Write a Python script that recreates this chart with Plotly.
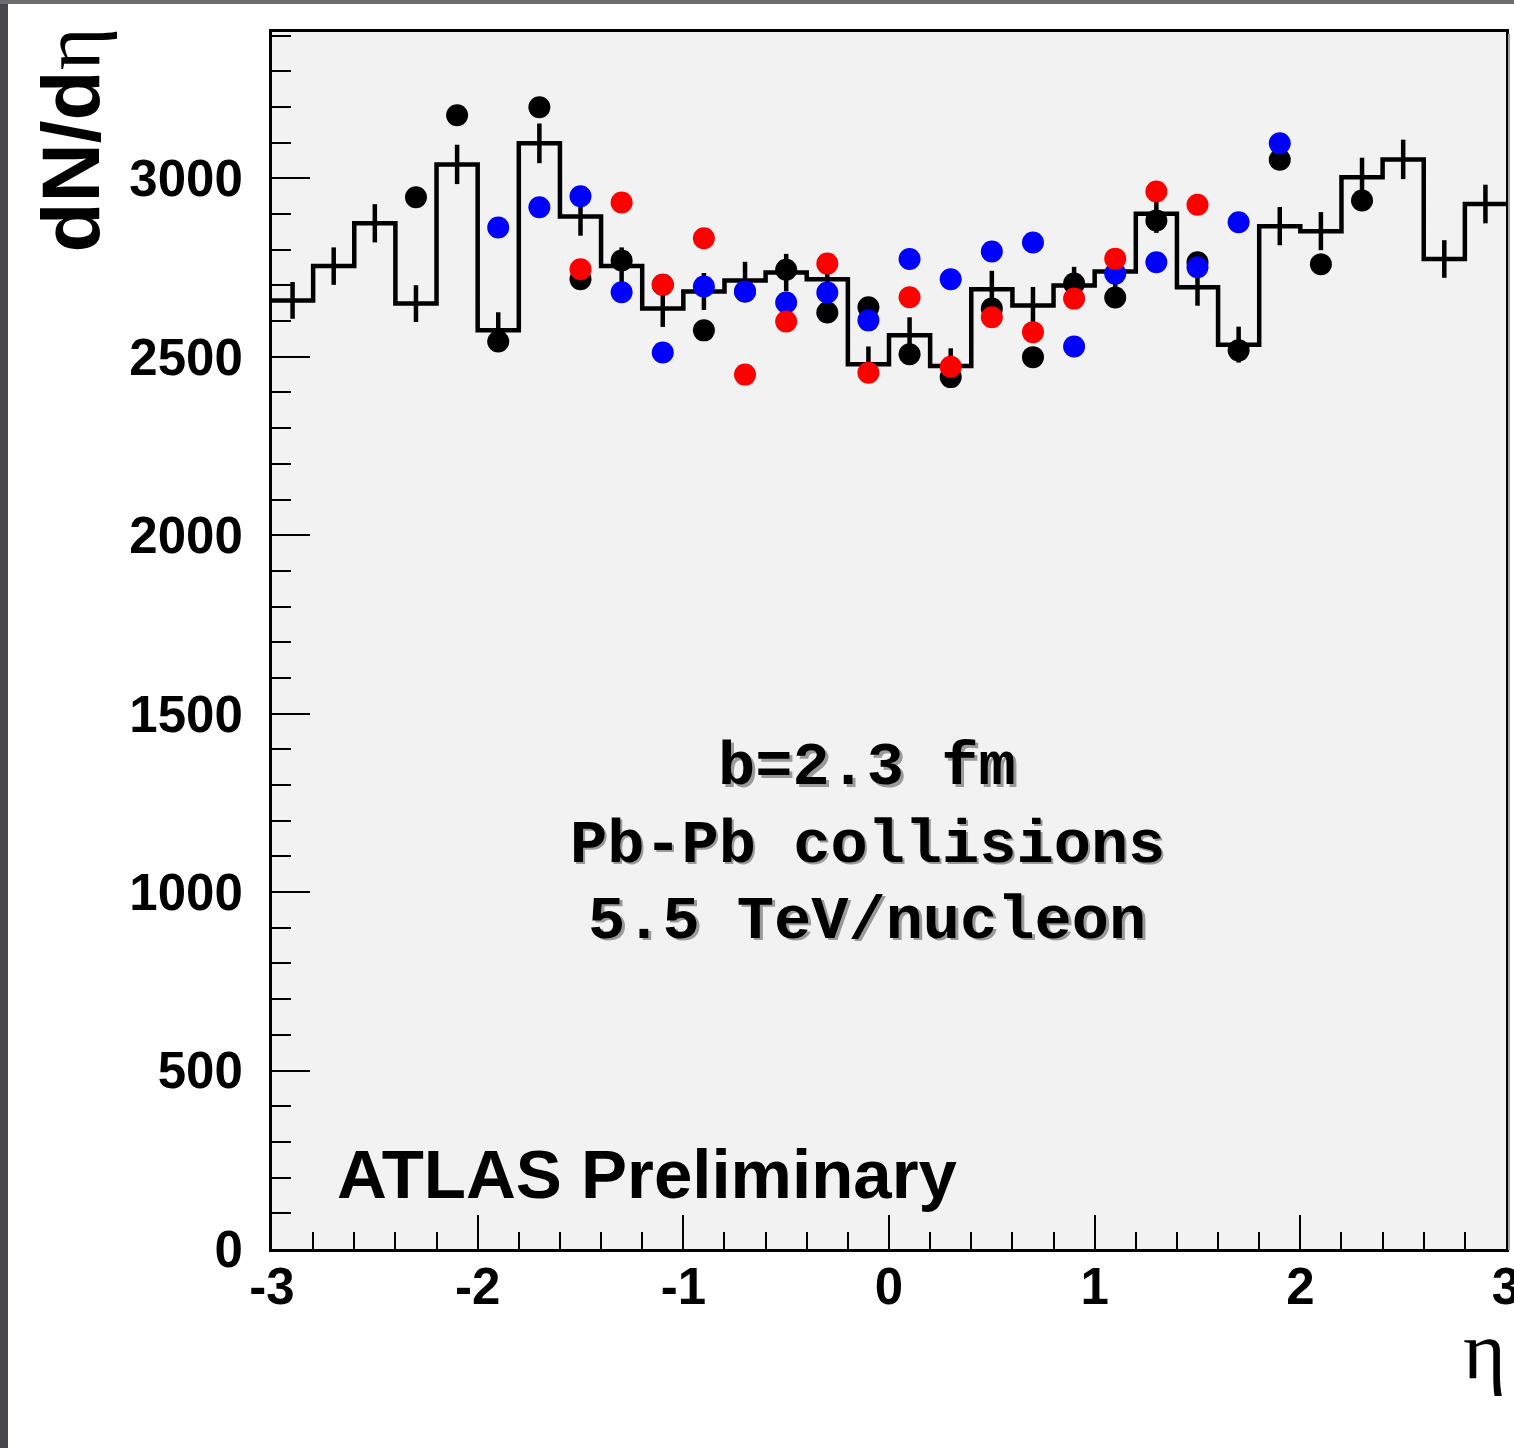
import numpy as np
import plotly.graph_objects as go

# ---------------- data ----------------
bin_edges = [-3.0, -2.8, -2.6, -2.4, -2.2, -2.0, -1.8, -1.6, -1.4, -1.2, -1.0,
             -0.8, -0.6, -0.4, -0.2, 0.0, 0.2, 0.4, 0.6, 0.8, 1.0,
             1.2, 1.4, 1.6, 1.8, 2.0, 2.2, 2.4, 2.6, 2.8, 3.0]
hist_values = [2658, 2754, 2874, 2649, 3039, 2574, 3098, 2893, 2754, 2635,
               2683, 2714, 2736, 2717, 2479, 2560, 2474, 2689, 2644, 2700,
               2739, 2901, 2695, 2534, 2866, 2852, 3003, 3053, 2774, 2928]

black_eta = [-2.3, -2.1, -1.9, -1.7, -1.5, -1.3, -1.1, -0.9, -0.7, -0.5, -0.3, -0.1,
             0.1, 0.3, 0.5, 0.7, 0.9, 1.1, 1.3, 1.5, 1.7, 1.9, 2.1, 2.3]
black_vals = [2947, 3177, 2543, 3199, 2717, 2770, 2702, 2574, 2683, 2744, 2624, 2639,
              2507, 2443, 2635, 2499, 2705, 2666, 2882, 2765, 2518, 3052, 2759, 2938]

blue_eta = [-1.9, -1.7, -1.5, -1.3, -1.1, -0.9, -0.7, -0.5, -0.3, -0.1,
            0.1, 0.3, 0.5, 0.7, 0.9, 1.1, 1.3, 1.5, 1.7, 1.9]
blue_vals = [2862, 2919, 2950, 2681, 2512, 2697, 2683, 2652, 2680, 2602,
             2774, 2717, 2795, 2820, 2529, 2733, 2765, 2751, 2877, 3098]

red_eta = [-1.5, -1.3, -1.1, -0.9, -0.7, -0.5, -0.3, -0.1,
           0.1, 0.3, 0.5, 0.7, 0.9, 1.1, 1.3, 1.5]
red_vals = [2745, 2932, 2702, 2832, 2450, 2599, 2761, 2455,
            2667, 2472, 2611, 2569, 2663, 2775, 2963, 2926]

x_tickvals = [-3, -2, -1, 0, 1, 2, 3]
x_ticktext = ["-3", "-2", "-1", "0", "1", "2", "3"]

info_lines = ["b=2.3 fm", "Pb-Pb collisions", "5.5 TeV/nucleon"]
label_text = "ATLAS Preliminary"

# ---------------- figure ----------------
W, H = 1514, 1448
ML, MR, MT, MB = 272, 8, 32, 199
PW, PH = W - ML - MR, H - MT - MB

def px(x):
    return (x - ML) / PW

def py(y):
    return (H - MB - y) / PH

centers = [(bin_edges[i] + bin_edges[i + 1]) / 2 for i in range(len(hist_values))]
errors = list(np.sqrt(hist_values))

fig = go.Figure()

# histogram step line
fig.add_trace(go.Scatter(
    x=bin_edges, y=hist_values + [hist_values[-1]],
    mode="lines", line=dict(shape="hv", color="black", width=4.5),
    hoverinfo="skip", showlegend=False))

# histogram error bars
fig.add_trace(go.Scatter(
    x=centers, y=hist_values, mode="markers",
    marker=dict(size=1, color="rgba(0,0,0,0)"),
    error_y=dict(type="data", array=errors, visible=True, color="black",
                 thickness=4.5, width=0),
    showlegend=False))

for xs, ys, col in [(black_eta, black_vals, "#000000"),
                    (blue_eta, blue_vals, "#0000ff"),
                    (red_eta, red_vals, "#ff0000")]:
    fig.add_trace(go.Scatter(x=xs, y=ys, mode="markers",
                             marker=dict(size=22, color=col, line=dict(width=0)),
                             showlegend=False))

annotations = []
# info text with shadow
line_y = [768, 845, 921]
for txt, yy in zip(info_lines, line_y):
    for dx, dy, col in [(2.5, 2.5, "#9a9a9a"), (0, 0, "#000000")]:
        annotations.append(dict(
            x=px(867 + dx), y=py(yy + dy), xref="paper", yref="paper",
            text=txt, showarrow=False, xanchor="center", yanchor="middle",
            font=dict(family="Liberation Mono", size=62, color=col, weight="bold")))

annotations.append(dict(
    x=px(335), y=py(1174), xref="paper", yref="paper", text=label_text,
    showarrow=False, xanchor="left", yanchor="middle",
    font=dict(family="Liberation Sans", size=69, color="black", weight="bold")))

# y title
annotations.append(dict(
    x=px(70), y=py(26), xref="paper", yref="paper",
    text="<b>dN/d</b><span style='font-family:Liberation Serif;font-weight:normal'>η</span>",
    showarrow=False, textangle=-90, xanchor="center", yanchor="top",
    font=dict(family="Liberation Sans", size=82, color="black")))

# x title
annotations.append(dict(
    x=px(1484), y=py(1350), xref="paper", yref="paper", text="η",
    showarrow=False, xanchor="center", yanchor="middle",
    font=dict(family="Liberation Serif", size=82, color="black")))

shapes = [
    dict(type="rect", xref="paper", yref="paper",
         x0=px(0), x1=px(8), y0=py(H), y1=py(0),
         fillcolor="#47474c", line=dict(width=0), layer="above"),
    dict(type="rect", xref="paper", yref="paper",
         x0=px(0), x1=px(W), y0=py(4), y1=py(0),
         fillcolor="#6c6c6c", line=dict(width=0), layer="above"),
    dict(type="line", xref="paper", yref="paper",
         x0=px(1509), x1=px(1509), y0=py(1250), y1=py(34),
         line=dict(color="#a0a0a0", width=2), layer="above"),
]

tickfont = dict(family="Liberation Sans", size=51, color="black", weight="bold")

fig.update_layout(
    width=W, height=H,
    margin=dict(l=ML, r=MR, t=MT, b=MB, pad=0, autoexpand=False),
    paper_bgcolor="white", plot_bgcolor="#f2f2f2",
    showlegend=False,
    annotations=annotations, shapes=shapes,
    xaxis=dict(range=[-3, 3], tickmode="array", tickvals=x_tickvals, ticktext=x_ticktext,
               showgrid=False, zeroline=False, automargin=False,
               showline=True, linecolor="black", linewidth=3, mirror=True,
               ticks="inside", ticklen=34, tickwidth=2, tickcolor="black",
               tickfont=tickfont, ticklabelstandoff=-9, ticklabeloverflow="allow",
               minor=dict(dtick=0.2, tick0=-3, ticks="inside", ticklen=17, tickwidth=2,
                          tickcolor="black", showgrid=False)),
    yaxis=dict(range=[0, 3410], tick0=0, dtick=500, showgrid=False, zeroline=False,
               automargin=False,
               showline=True, linecolor="black", linewidth=3, mirror=True,
               ticks="inside", ticklen=38, tickwidth=2, tickcolor="black",
               tickfont=tickfont, ticklabelstandoff=16, ticklabeloverflow="allow",
               minor=dict(dtick=100, ticks="inside", ticklen=19, tickwidth=2,
                          tickcolor="black", showgrid=False)),
)

fig.write_html("out.html")
